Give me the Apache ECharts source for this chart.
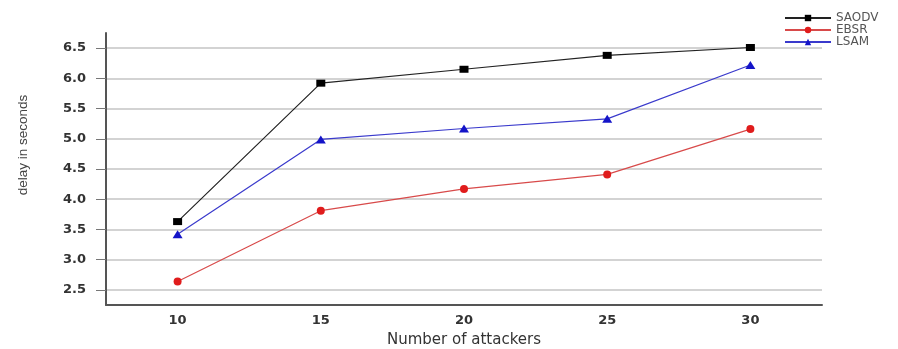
<!DOCTYPE html>
<html>
<head>
<meta charset="utf-8">
<script src="https://cdn.jsdelivr.net/npm/echarts@6/dist/echarts.min.js"></script>
<style>html,body{margin:0;padding:0;background:#fff}#c{width:898px;height:349px}</style>
</head>
<body>
<div id="c"></div>
<script>
const categories = ['10', '15', '20', '25', '30'];
const saodv = [3.63, 5.92, 6.15, 6.38, 6.51];
const ebsr = [2.64, 3.81, 4.17, 4.41, 5.16];
const lsam = [3.42, 4.99, 5.17, 5.33, 6.22];
const yTicks = [2.5, 3.0, 3.5, 4.0, 4.5, 5.0, 5.5, 6.0, 6.5];
const seriesNames = ['SAODV', 'EBSR', 'LSAM'];

const chart = echarts.init(document.getElementById('c'));
const font = 'DejaVu Sans';
chart.setOption({
  animation: false,
  backgroundColor: '#fff',
  grid: {left: 106, right: 76, top: 33, bottom: 44, outerBoundsMode: 'none', containLabel: false},
  legend: {
    orient: 'vertical', left: 779, top: 7,
    itemWidth: 46, itemHeight: 8, itemGap: 0,
    textStyle: {fontFamily: font, fontSize: 12, lineHeight: 10, color: '#555'},
    data: seriesNames
  },
  xAxis: {
    type: 'category', data: categories, boundaryGap: true,
    name: 'Number of attackers', nameLocation: 'middle', nameGap: 28,
    nameTextStyle: {fontFamily: font, fontSize: 15, color: '#333'},
    axisLine: {lineStyle: {color: '#555', width: 2}},
    axisTick: {alignWithLabel: true, length: 5, lineStyle: {color: '#666', width: 1.5}},
    axisLabel: {fontFamily: font, fontSize: 13, fontWeight: 'bold', color: '#333', margin: 9},
    splitLine: {show: false}
  },
  yAxis: {
    type: 'value', min: 2.25, max: 6.75,
    name: 'delay in seconds', nameLocation: 'middle', nameGap: 76,
    nameTextStyle: {fontFamily: '"Liberation Sans Narrow", "Liberation Sans"', fontSize: 13.5, color: '#444',
      padding: [0, 0, 0, 48]},
    axisLine: {show: true, lineStyle: {color: '#555', width: 2}},
    axisTick: {show: true, customValues: yTicks, length: 10, lineStyle: {color: '#777', width: 1}},
    axisLabel: {customValues: yTicks, fontFamily: font, fontSize: 13, fontWeight: 'bold', color: '#333', margin: 20,
      formatter: v => v.toFixed(1)},
    splitLine: {show: true, lineStyle: {color: '#c4c4c4', width: 1.5}}
  },
  series: [
    {name: 'SAODV', type: 'line', data: saodv, symbol: 'rect', symbolSize: [9, 7],
      lineStyle: {color: '#222', width: 1.2}, itemStyle: {color: '#000'}},
    {name: 'EBSR', type: 'line', data: ebsr, symbol: 'circle', symbolSize: 8,
      lineStyle: {color: '#d84a4a', width: 1.2}, itemStyle: {color: '#e01c1c'}},
    {name: 'LSAM', type: 'line', data: lsam, symbol: 'triangle', symbolSize: [10, 8],
      lineStyle: {color: '#3a3acc', width: 1.2}, itemStyle: {color: '#1414c8'}}
  ]
});
</script>
</body>
</html>
